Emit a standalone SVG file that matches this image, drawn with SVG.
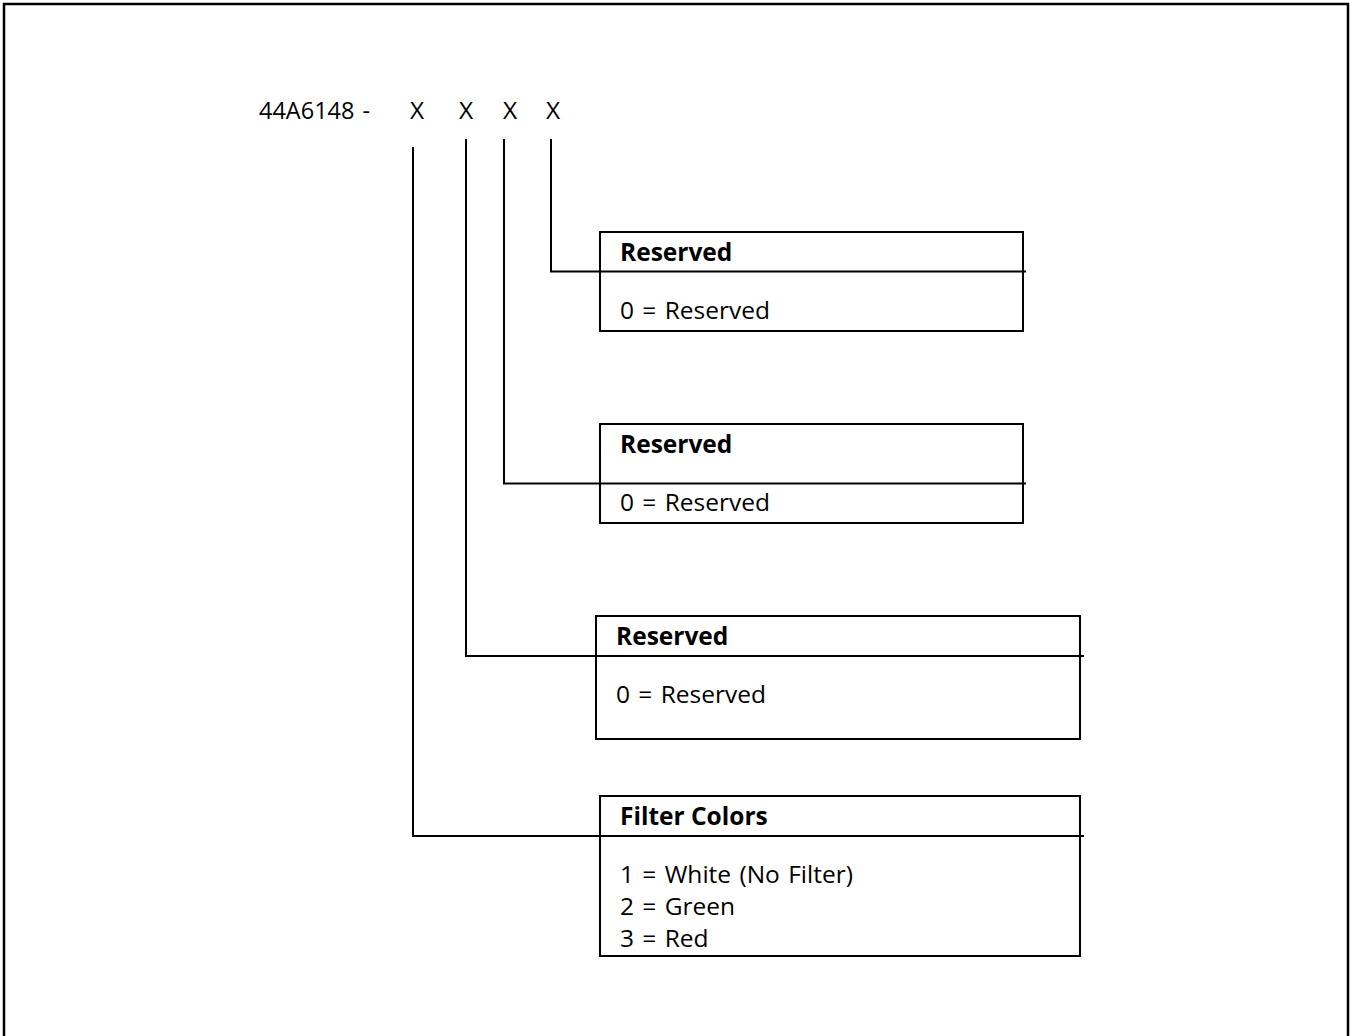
<svg xmlns="http://www.w3.org/2000/svg" width="1353" height="1036" viewBox="0 0 1353 1036">
<style>
.t{font-family:"Open Sans","Noto Sans",sans-serif;font-size:24.5px;fill:#000;word-spacing:2px}
.b{font-weight:bold;word-spacing:0}
.box{fill:none;stroke:#000;stroke-width:2}
.ln{fill:none;stroke:#000;stroke-width:2}
</style>
<rect x="0" y="0" width="1353" height="1036" fill="#fff"/>
<path d="M4,1036 V4 H1348 V1036" fill="none" stroke="#000" stroke-width="2.5"/>
<g id="code">
<text class="t" x="259" y="119" textLength="111" lengthAdjust="spacingAndGlyphs">44A6148 -</text>
<text class="t" x="417" y="119" text-anchor="middle">X</text>
<text class="t" x="466" y="119" text-anchor="middle">X</text>
<text class="t" x="510" y="119" text-anchor="middle">X</text>
<text class="t" x="553" y="119" text-anchor="middle">X</text>
</g>
<g id="connectors">
<path class="ln" d="M551,139 V271.5 H1026"/>
<path class="ln" d="M504,139 V483.5 H1026"/>
<path class="ln" d="M466,139 V656 H1084"/>
<path class="ln" d="M413,147 V836 H1084"/>
</g>
<g id="box1">
<rect class="box" x="600" y="232" width="423" height="99"/>
<text class="t b" x="620" y="261">Reserved</text>
<text class="t" x="620" y="319">0 = Reserved</text>
</g>
<g id="box2">
<rect class="box" x="600" y="424" width="423" height="99"/>
<text class="t b" x="620" y="453">Reserved</text>
<text class="t" x="620" y="511">0 = Reserved</text>
</g>
<g id="box3">
<rect class="box" x="596" y="616" width="484" height="123"/>
<text class="t b" x="616" y="645">Reserved</text>
<text class="t" x="616" y="703">0 = Reserved</text>
</g>
<g id="box4">
<rect class="box" x="600" y="796" width="480" height="160"/>
<text class="t b" x="620" y="825">Filter Colors</text>
<text class="t" x="620" y="883">1 = White (No Filter)</text>
<text class="t" x="620" y="915">2 = Green</text>
<text class="t" x="620" y="947">3 = Red</text>
</g>
</svg>
